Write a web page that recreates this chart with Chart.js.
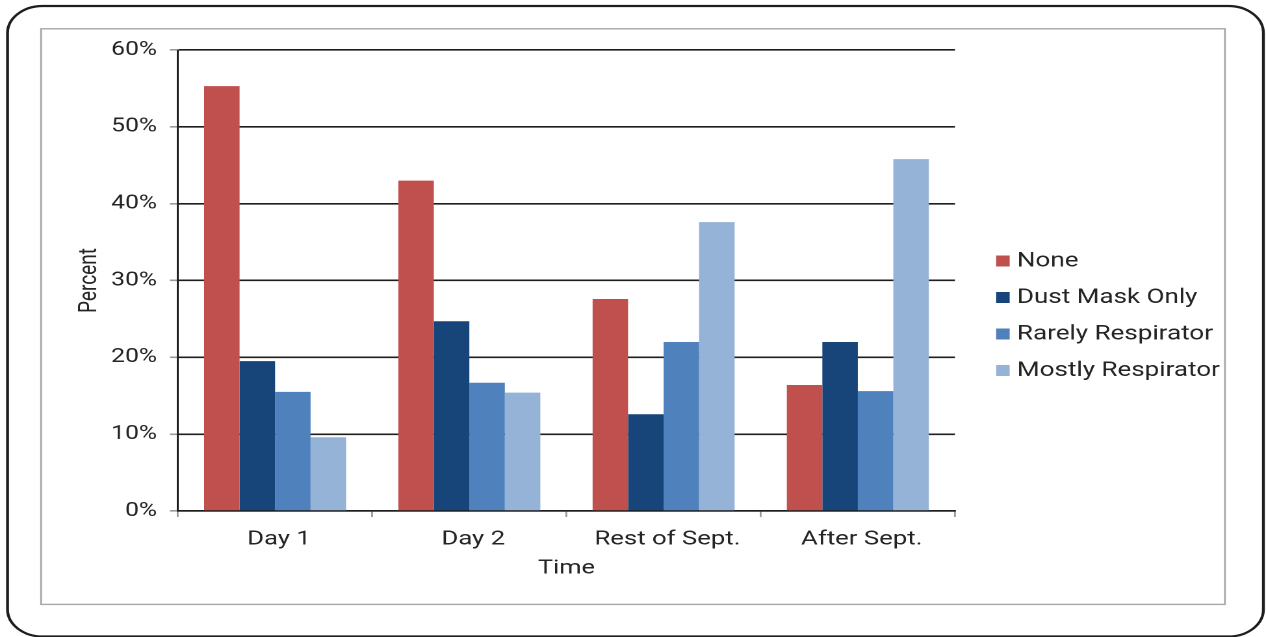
<!DOCTYPE html>
<html>
<head>
<meta charset="utf-8">
<script src="https://cdn.jsdelivr.net/npm/chart.js@4/dist/chart.umd.min.js"></script>
<style>
  html, body { margin: 0; padding: 0; background: #fff; overflow: hidden; }
  #wrap { width: 974px; height: 637px; transform: scaleX(1.29979); transform-origin: 0 0; }
</style>
</head>
<body>
<div id="wrap"><canvas id="c" width="974" height="637"></canvas></div>
<script>
// Share of workers by respiratory protection, per time period (percent)
const categories = ['Day 1', 'Day 2', 'Rest of Sept.', 'After Sept.'];
const seriesNames = ['None', 'Dust Mask Only', 'Rarely Respirator', 'Mostly Respirator'];
const none = [55.3, 43.0, 27.6, 16.4];
const dustMaskOnly = [19.5, 24.7, 12.6, 22.0];
const rarelyRespirator = [15.5, 16.7, 22.0, 15.6];
const mostlyRespirator = [9.6, 15.4, 37.6, 45.8];
const yTickLabels = ['0%', '10%', '20%', '30%', '40%', '50%', '60%'];

const seriesColors = ['#C0504D', '#17457A', '#4F81BD', '#95B3D7'];
const textColor = '#252525';
const fontFamily = 'Roboto, "Noto Sans", sans-serif';

// frame: outer rounded border and inner gray box
const framePlugin = {
  id: 'frame',
  beforeDraw(chart) {
    const ctx = chart.ctx;
    ctx.save();
    ctx.fillStyle = '#fff';
    ctx.fillRect(0, 0, chart.width, chart.height);
    ctx.strokeStyle = '#1e1e1e';
    ctx.lineWidth = 2.2;
    ctx.beginPath();
    ctx.roundRect(5.8, 6, 966.2, 630.5, 27);
    ctx.stroke();
    ctx.strokeStyle = '#a8a8a8';
    ctx.lineWidth = 1.4;
    ctx.strokeRect(31.6, 28.8, 910.8, 575.6);
    ctx.restore();
  }
};

// legend on the right, drawn from the dataset labels and colours
const sideLegend = {
  id: 'sideLegend',
  afterDraw(chart) {
    const ctx = chart.ctx;
    ctx.save();
    ctx.font = '20px ' + fontFamily;
    ctx.textBaseline = 'middle';
    ctx.textAlign = 'left';
    chart.data.datasets.forEach((ds, i) => {
      const cy = 261 + i * 36.5;
      ctx.fillStyle = ds.backgroundColor;
      ctx.fillRect(766.4, cy - 5.5, 10.4, 11);
      ctx.fillStyle = textColor;
      ctx.fillText(ds.label, 782.4, cy + 0.5);
    });
    ctx.restore();
  }
};

const seriesValues = [none, dustMaskOnly, rarelyRespirator, mostlyRespirator];

new Chart(document.getElementById('c'), {
  type: 'bar',
  data: {
    labels: categories,
    datasets: seriesValues.map((vals, i) => ({
      label: seriesNames[i],
      data: vals,
      backgroundColor: seriesColors[i],
      borderWidth: 0,
      categoryPercentage: 0.731,
      barPercentage: 1.0
    }))
  },
  options: {
    responsive: false,
    animation: false,
    devicePixelRatio: 2,
    layout: { padding: { left: 31.5, top: 50, right: 239.3, bottom: 56 } },
    plugins: {
      legend: { display: false },
      tooltip: { enabled: false }
    },
    scales: {
      x: {
        afterFit(scale) { scale.height = 70; },
        grid: {
          drawOnChartArea: false,
          drawTicks: true,
          tickLength: 6,
          tickColor: '#9a9a9a',
          lineWidth: 1.4,
          offset: true
        },
        border: { display: true, color: '#1e1e1e', width: 1.6 },
        ticks: {
          color: textColor,
          font: { family: fontFamily, size: 19.8 },
          padding: 10.5,
          labelOffset: 3,
          maxRotation: 0
        },
        title: {
          display: true,
          text: 'Time',
          color: textColor,
          font: { family: fontFamily, size: 19.5 },
          padding: { top: 0, bottom: 0.5 }
        }
      },
      y: {
        min: 0,
        max: 60,
        afterFit(scale) { scale.width = 105.4; },
        grid: {
          color: '#1e1e1e',
          lineWidth: 1.6,
          drawTicks: true,
          tickLength: 6.2,
          tickColor: '#9a9a9a'
        },
        border: { display: true, color: '#1e1e1e', width: 1.5 },
        ticks: {
          stepSize: 10,
          color: textColor,
          font: { family: fontFamily, size: 19 },
          padding: 9.9,
          callback: (v, i) => yTickLabels[i]
        },
        title: {
          display: true,
          text: 'Percent',
          color: textColor,
          font: { family: fontFamily, size: 19 },
          padding: { top: 26.3, bottom: 0 }
        }
      }
    }
  },
  plugins: [framePlugin, sideLegend]
});
</script>
</body>
</html>
